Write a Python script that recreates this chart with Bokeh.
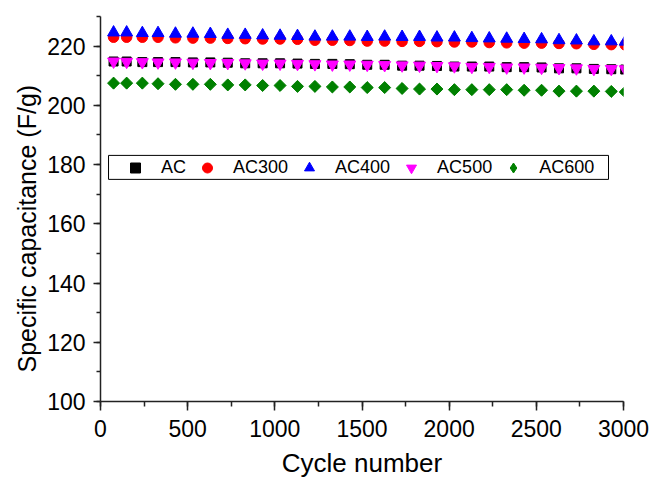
from bokeh.plotting import figure
from bokeh.models import Range1d, SingleIntervalTicker, Legend, LegendItem, Title, BoxAnnotation
from bokeh.embed import file_html
from bokeh.resources import INLINE
import math

# ---- data ----
cycles = [75, 150, 240, 330, 430, 530, 630, 730, 830, 930, 1030, 1130, 1230, 1330, 1430,
          1530, 1630, 1730, 1830, 1930, 2030, 2130, 2230, 2330, 2430, 2530, 2630, 2730,
          2830, 2930, 3010]
ac = [214.8, 214.8, 214.6, 214.6, 214.6, 214.5, 214.5, 214.4, 214.2, 214.2, 214.2, 214.1,
      214.0, 214.0, 213.9, 213.7, 213.7, 213.4, 213.4, 213.3, 213.1, 213.1, 213.1, 212.9,
      212.9, 212.8, 212.5, 212.5, 212.3, 212.2, 212.1]
ac300 = [223.0, 223.0, 223.0, 223.0, 222.8, 222.7, 222.7, 222.6, 222.5, 222.4, 222.4, 222.3,
         222.0, 222.0, 221.9, 221.7, 221.7, 221.6, 221.6, 221.5, 221.4, 221.4, 221.2, 221.1,
         221.0, 221.0, 220.9, 220.8, 220.6, 220.5, 220.4]
ac400 = [224.6, 224.6, 224.4, 224.4, 224.2, 224.2, 224.1, 223.8, 223.8, 223.6, 223.5, 223.4,
         223.2, 223.2, 223.2, 223.1, 223.2, 223.1, 223.1, 222.9, 222.9, 222.7, 222.6, 222.5,
         222.4, 222.3, 222.0, 221.9, 221.6, 221.6, 221.5]
ac500 = [214.8, 214.7, 214.6, 214.5, 214.5, 214.4, 214.3, 214.3, 214.2, 214.1, 214.1, 214.0,
         213.9, 213.8, 213.8, 213.7, 213.6, 213.5, 213.4, 213.3, 213.2, 213.0, 213.0, 212.8,
         212.8, 212.7, 212.6, 212.5, 212.3, 212.3, 212.2]
ac600 = [207.5, 207.5, 207.5, 207.3, 207.1, 207.1, 207.1, 206.9, 206.9, 206.7, 206.7, 206.4,
         206.4, 206.2, 206.2, 206.0, 206.0, 205.7, 205.5, 205.5, 205.3, 205.3, 205.3, 205.3,
         205.1, 205.1, 204.8, 204.8, 204.8, 204.7, 204.5]
series_names = ["AC", "AC300", "AC400", "AC500", "AC600"]
x_title = "Cycle number"
y_title = "Specific capacitance (F/g)"

FONT = "Liberation Sans"

p = figure(width=652, height=482, output_backend="svg", toolbar_location=None,
           x_range=Range1d(0, 3000), y_range=Range1d(100, 230),
           min_border_left=100, min_border_right=29, min_border_top=16, min_border_bottom=81)
p.outline_line_color = None
p.xgrid.visible = False
p.ygrid.visible = False

p.xaxis.ticker = SingleIntervalTicker(interval=500, num_minor_ticks=2)
p.yaxis.ticker = SingleIntervalTicker(interval=20, num_minor_ticks=2)

for ax in (p.xaxis, p.yaxis):
    ax.axis_line_width = 1.5
    ax.axis_line_color = "#222222"
    ax.major_tick_line_color = "#222222"
    ax.minor_tick_line_color = "#222222"
    ax.major_tick_line_width = 1.5
    ax.minor_tick_line_width = 1.5
    ax.major_tick_in = 0
    ax.minor_tick_in = 0
    ax.major_label_text_font = FONT
    ax.major_label_text_font_size = "23px"
    ax.major_label_text_color = "black"

p.xaxis.major_tick_out = 9
p.xaxis.minor_tick_out = 5
p.yaxis.major_tick_out = 7
p.yaxis.minor_tick_out = 4
p.xaxis.major_label_standoff = 9
p.yaxis.major_label_standoff = 8

p.xaxis.axis_label = x_title
p.xaxis.axis_label_text_font = FONT
p.xaxis.axis_label_text_font_size = "26px"
p.xaxis.axis_label_text_font_style = "normal"
p.xaxis.axis_label_text_color = "black"
p.xaxis.axis_label_standoff = 8

# y title: the reference title starts a little above the frame bottom, so anchor it there
p.add_layout(Title(text=y_title, align="left", offset=29, standoff=8,
                   text_font=FONT, text_font_size="25px", text_font_style="normal",
                   text_color="black"), "left")

r_ac = p.scatter(cycles, ac, marker="square", size=9, color="black")
r_300 = p.scatter(cycles, ac300, marker="circle", size=10.5, color="#FF0000")
r_400 = p.scatter(cycles, ac400, marker="triangle", size=12, color="#0000FF")
r_500 = p.scatter(cycles, ac500, marker="inverted_triangle", size=12, color="#FF00FF")
# diamond used as legend glyph, fully covered by the rotated squares drawn on top
r_600_leg = p.scatter(cycles, ac600, marker="diamond", size=10.5, color="#008000")
r_600 = p.scatter(cycles, ac600, marker="square", size=8.5, angle=math.pi / 4, color="#008000")

# legend frame
p.add_layout(BoxAnnotation(left=46, right=2914, bottom=175.0, top=183.1,
                           fill_color="white", fill_alpha=1.0,
                           line_color="black", line_width=1, line_alpha=1.0))

items = [LegendItem(label=n, renderers=[r]) for n, r in
         zip(series_names, [r_ac, r_300, r_400, r_500, r_600_leg])]
legend = Legend(items=items, orientation="horizontal", location=(14, 221),
                label_text_font=FONT, label_text_font_size="18px", label_text_color="black",
                glyph_width=42, glyph_height=25, label_standoff=5, spacing=0,
                padding=0, margin=0, border_line_color=None, background_fill_alpha=0.0)
p.add_layout(legend)

open("out.html", "w").write(file_html(p, INLINE))
